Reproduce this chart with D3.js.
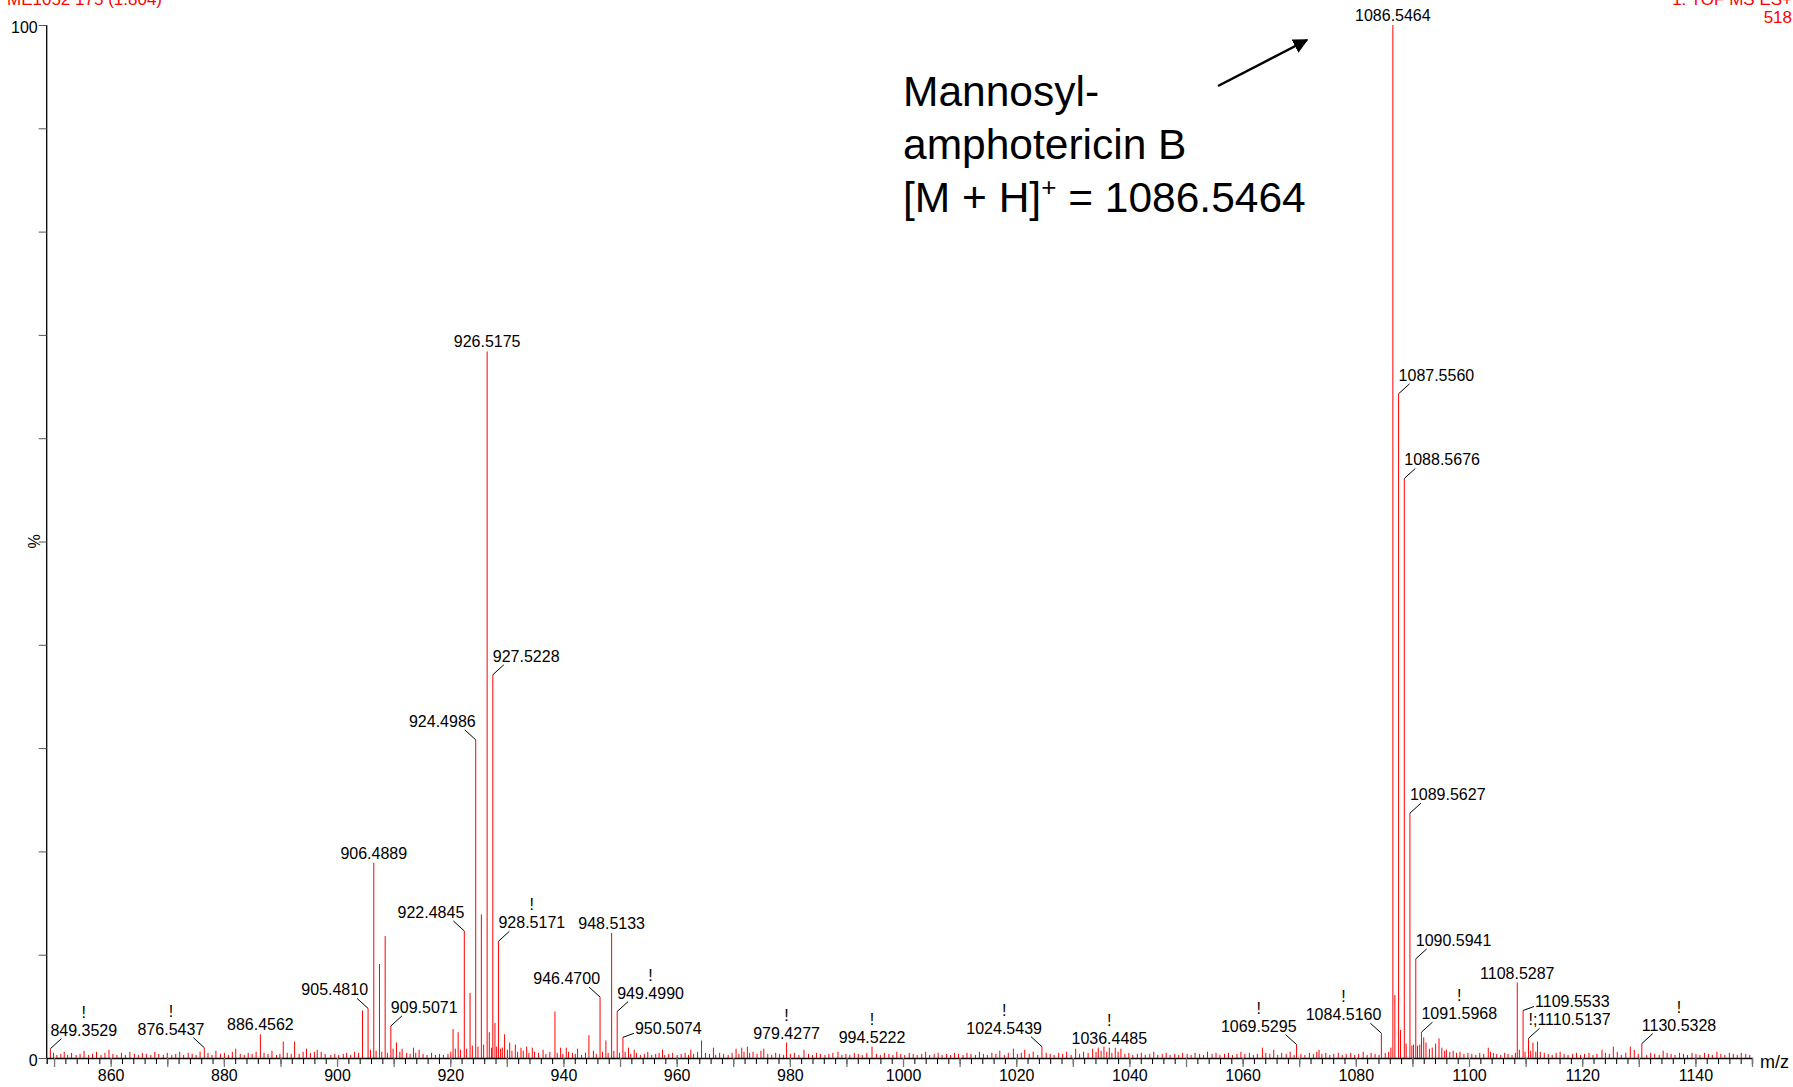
<!DOCTYPE html>
<html>
<head>
<meta charset="utf-8">
<script src="https://cdn.jsdelivr.net/npm/d3@7"></script>
<style>
  body { margin: 0; background: #fff; }
  svg { display: block; font-family: Arial, "Liberation Sans", sans-serif; }
</style>
</head>
<body>
<div id="chart"></div>
<script>
// ---- data (m/z, relative intensity %) ----
const labelText = ["849.3529","876.5437","886.4562","905.4810","906.4889","909.5071","922.4845","924.4986",
  "926.5175","927.5228","928.5171","946.4700","948.5133","949.4990","950.5074","979.4277","994.5222",
  "1024.5439","1036.4485","1069.5295","1084.5160","1086.5464","1087.5560","1088.5676","1089.5627",
  "1090.5941","1091.5968","1108.5287","1109.5533","!;1110.5137","1130.5328"];
const labelPct = [0.9,1.0,2.3,4.8,18.9,3.1,12.3,30.8,
  68.4,37.1,11.3,5.9,12.1,4.5,2.0,1.5,1.1,
  1.1,1.0,1.3,2.4,100,64.3,56.1,23.7,
  9.6,2.5,7.3,4.6,1.9,1.4];
const labelBang = [1,1,0,0,0,0,0,0, 0,0,1,0,0,1,0,1,1, 1,1,1,1,0,0,0,0, 0,1,0,0,0,1];

// unlabelled but visible peaks
const minorPeaks = [
  [882.1,0.9],[890.5,1.6],[892.5,1.6],[894.6,0.9],[896.5,0.8],
  [904.5,4.6],[907.5,9.1],[908.5,11.8],[910.5,1.5],[911.5,0.9],[913.5,1.0],[914.5,0.8],
  [920.5,2.8],[921.4,2.5],[923.5,6.3],[925.5,13.9],[926.9,2.5],[927.9,3.4],[929.6,2.3],[930.5,1.5],
  [931.5,1.3],[932.5,1.0],[933.5,1.1],[934.5,1.0],[936.4,0.8],[938.5,4.5],[939.5,1.0],[940.5,1.0],
  [942.5,0.9],[944.5,2.2],[945.3,0.7],[947.5,1.7],[951.5,1.0],[952.5,0.8],[957.5,0.8],[962.5,0.8],
  [964.4,1.7],[966.5,1.0],[970.5,0.9],[971.5,1.0],[972.5,1.1],[975.4,0.9],[982.5,0.8],
  [1019.5,0.9],[1021.5,0.8],[1030.5,0.9],[1033.5,0.9],[1034.5,1.0],[1035.5,1.1],[1037.5,1.0],[1038.5,0.9],
  [1063.5,1.0],[1065.5,0.8],[1073.5,0.8],
  [1086.9,6.1],[1087.9,2.7],[1088.9,1.4],[1089.9,1.2],[1090.2,1.3],[1090.9,1.2],[1091.3,1.3],[1092.0,2.0],
  [1092.4,1.5],[1093.5,1.0],[1094.1,1.4],[1094.7,1.9],[1095.7,0.7],[1103.4,1.0],[1103.8,0.6],
  [1108.9,0.8],[1111.3,1.5],[1112.1,1.6],[1112.6,0.6],[1116.1,0.6],[1123.5,0.8],[1125.5,1.1],
  [1128.5,1.1],[1129.2,0.8],[1134.3,0.7]
];

// baseline noise
const noise = [
  [849.9,.5],[850.5,.3],[851.2,.4],[851.8,.6],[852.4,.3],[853.1,.5],[853.9,.3],[854.6,.4],[855.3,.7],[856.1,.3],[856.8,.4],[857.5,.6],[858.3,.3],[859.0,.5],[859.7,.8],
  [860.4,.4],[861.1,.3],[861.9,.5],[862.6,.3],[863.4,.6],[864.2,.4],[864.9,.3],[865.6,.5],[866.3,.4],[867.1,.3],[867.8,.6],[868.5,.4],[869.3,.3],
  [870.0,.5],[870.8,.3],[871.5,.4],[872.2,.6],[872.9,.3],[873.7,.5],[874.4,.4],[875.1,.3],[875.8,.6],[877.2,.5],[877.9,.3],[878.6,.7],[879.4,.4],
  [880.1,.5],[880.8,.3],[881.5,.6],[882.9,.4],[883.6,.3],[884.3,.5],[885.0,.4],[885.7,.6],[887.1,.5],[887.8,.4],[888.5,.7],[889.3,.3],
  [889.9,.4],[891.2,.5],[891.9,.4],[893.3,.4],[894.0,.6],[895.3,.5],[896.0,.6],[897.2,.6],[897.9,.4],[898.9,.3],[899.6,.4],
  [900.3,.3],[901.1,.4],[901.7,.5],[902.4,.3],[903.1,.6],[903.8,.5],[905.9,.8],[906.9,.7],[907.9,.6],[908.9,.5],[909.9,.9],[911.1,.6],[912.3,.5],[912.9,.4],
  [913.9,.5],[915.2,.4],[915.9,.3],[916.7,.5],[917.4,.3],[918.1,.4],[918.8,.3],[919.6,.4],
  [920.1,.6],[920.9,.9],[921.8,.8],[922.9,.9],[923.9,1.2],[924.9,1.1],[925.9,1.3],[927.3,1.0],[928.2,1.1],[928.9,.9],
  [929.2,1.0],[930.1,.8],[930.9,.7],[931.9,.6],[932.9,.7],[933.9,.5],[934.9,.6],[935.6,.5],[936.9,.4],[937.6,.6],
  [938.9,.5],[939.9,.4],[940.9,.6],[941.6,.5],[942.1,.4],[943.2,.3],[943.9,.5],[945.8,.4],[946.9,.6],[947.9,.5],[948.9,.7],
  [949.9,.5],[950.9,.6],[951.9,.4],[952.9,.5],[953.6,.3],[954.3,.4],[954.9,.6],[955.6,.3],[956.3,.4],[956.9,.5],[957.9,.3],[958.6,.4],[959.3,.5],
  [960.1,.3],[960.8,.4],[961.5,.5],[962.1,.3],[963.0,.4],[963.7,.6],[965.1,.5],[965.8,.4],[966.9,.3],[967.6,.5],[968.3,.4],[969.1,.3],[969.8,.5],
  [971.0,.4],[971.9,.6],[972.9,.5],[973.5,.6],[974.2,.4],[974.9,.7],[976.1,.4],[976.8,.3],[977.5,.5],[978.2,.4],[978.9,.3],
  [980.1,.4],[980.8,.5],[981.6,.3],[983.3,.4],[984.0,.3],[984.7,.5],[985.4,.4],[986.2,.3],[986.9,.4],[987.6,.5],[988.5,.6],[989.2,.3],[989.9,.4],
  [990.6,.3],[991.4,.5],[992.1,.4],[992.8,.3],[993.6,.5],[995.3,.4],[996.0,.3],[996.7,.5],[997.5,.4],[998.2,.3],[998.9,.6],[999.6,.4],
  [1000.3,.3],[1001.1,.5],[1001.8,.4],[1002.5,.3],[1003.3,.4],[1004.0,.6],[1004.7,.3],[1005.5,.4],[1006.2,.5],[1006.9,.3],[1007.7,.4],[1008.4,.3],[1009.1,.5],[1009.8,.4],
  [1010.6,.3],[1011.3,.5],[1012.0,.4],[1012.8,.3],[1013.5,.6],[1014.2,.4],[1014.9,.3],[1015.7,.5],[1016.4,.4],[1017.1,.7],[1017.9,.3],[1018.6,.5],
  [1020.2,.4],[1020.9,.5],[1022.3,.4],[1023.0,.6],[1023.8,.3],[1025.3,.5],[1026.0,.4],[1026.7,.3],[1027.5,.5],[1028.2,.4],[1028.9,.6],[1029.7,.3],
  [1031.2,.4],[1031.9,.6],[1032.7,.5],[1034.1,.6],[1035.0,.7],[1036.0,.6],[1036.9,.5],[1038.0,.6],[1039.2,.4],[1039.9,.5],
  [1040.6,.3],[1041.4,.4],[1042.1,.5],[1042.8,.3],[1043.6,.4],[1044.3,.6],[1045.0,.3],[1045.8,.4],[1046.5,.5],[1047.2,.3],[1048.0,.4],[1048.7,.3],[1049.4,.5],
  [1050.2,.4],[1050.9,.3],[1051.6,.5],[1052.4,.4],[1053.1,.3],[1053.8,.6],[1054.6,.4],[1055.3,.5],[1056.0,.3],[1056.8,.4],[1057.5,.5],[1058.2,.3],[1059.0,.4],[1059.7,.6],
  [1060.4,.4],[1061.2,.5],[1061.9,.3],[1062.6,.4],[1064.1,.5],[1064.8,.4],[1066.2,.3],[1066.9,.5],[1067.7,.4],[1068.4,.6],[1069.1,.3],
  [1070.3,.4],[1071.0,.3],[1071.8,.5],[1072.5,.4],[1073.1,.6],[1074.0,.4],[1074.7,.5],[1075.4,.3],[1076.1,.4],[1076.9,.5],[1077.6,.3],[1078.3,.4],[1079.1,.5],[1079.8,.3],
  [1080.5,.4],[1081.3,.6],[1082.0,.3],[1082.7,.5],[1083.4,.4],[1084.1,.3],[1085.2,.5],[1085.8,.6],[1086.2,1.0],
  [1093.0,.9],[1095.2,1.0],[1096.0,.8],[1096.6,.6],[1097.2,.7],[1097.8,.5],[1098.4,.6],[1099.1,.4],[1099.8,.5],
  [1100.5,.4],[1101.2,.3],[1101.9,.5],[1102.6,.4],[1104.3,.5],[1104.9,.4],[1105.6,.3],[1106.3,.5],[1106.9,.4],[1107.6,.3],[1108.2,.5],
  [1109.9,.6],[1110.9,.7],[1111.8,.6],[1113.3,.5],[1114.0,.4],[1114.7,.3],[1115.4,.5],[1116.8,.4],[1117.5,.3],[1118.3,.4],[1119.0,.5],[1119.7,.3],
  [1120.4,.4],[1121.2,.5],[1121.9,.3],[1122.6,.4],[1124.1,.5],[1124.8,.4],[1126.2,.6],[1126.9,.3],[1127.7,.5],[1129.9,.4],[1131.4,.3],[1132.1,.5],[1132.8,.4],[1133.6,.3],
  [1135.0,.5],[1135.7,.4],[1136.4,.3],[1137.2,.5],[1137.9,.4],[1138.6,.3],[1139.4,.5],[1140.1,.4],[1140.8,.3],[1141.6,.5],[1142.3,.4],[1143.0,.3],[1143.8,.6],
  [1144.5,.4],[1145.2,.3],[1146.0,.5],[1146.7,.4],[1147.4,.3],[1148.1,.5],[1148.9,.4],[1149.6,.3]
];

// ---- layout (how each label sits relative to its peak) ----
const labelSide = ["r","l","c","l","c","r","l","l", "c","r","r","l","c","r","b","c","c",
  "l","c","l","l","c","r","r","r", "r","r","c","b","r","r"];

const W = 1793, H = 1087;
const svg = d3.select("#chart").append("svg").attr("width", W).attr("height", H);

const x = d3.scaleLinear().domain([848.7, 1150]).range([46.7, 1752]);
const y = d3.scaleLinear().domain([0, 100]).range([1058, 25]);

// peaks
const labelled = labelText.map((t, i) => [+t.replace("!;", ""), labelPct[i]]);
const allPeaks = noise.concat(minorPeaks, labelled);

svg.append("g").selectAll("line").data(allPeaks).join("line")
  .attr("x1", d => x(d[0])).attr("x2", d => x(d[0]))
  .attr("y1", y(0)).attr("y2", d => y(d[1]))
  .attr("stroke", "#ff0000").attr("stroke-width", 1);

// x axis: minor ticks every 2, gray ticks every 10, labels every 20
const xMinor = svg.append("g").attr("transform", `translate(0,${y(0)})`)
  .call(d3.axisBottom(x).tickValues(d3.range(850, 1151, 2)).tickSize(6).tickFormat(""));
xMinor.select(".domain").attr("stroke", "#000").attr("stroke-width", 1.3);
xMinor.selectAll(".tick line").attr("stroke", "#000");

const xMid = svg.append("g").attr("transform", `translate(0,${y(0)})`)
  .call(d3.axisBottom(x).tickValues(d3.range(850, 1151, 10)).tickSize(9).tickFormat(""));
xMid.select(".domain").remove();
xMid.selectAll(".tick line").attr("stroke", "#777").attr("stroke-width", 1.3);

const xLab = svg.append("g").attr("transform", `translate(0,${y(0)})`)
  .call(d3.axisBottom(x).tickValues(d3.range(860, 1141, 20)).tickSize(0).tickPadding(12)
    .tickFormat(d3.format("d")));
xLab.select(".domain").remove();
xLab.selectAll("text").attr("font-size", 16).attr("font-family", "Arial, 'Liberation Sans', sans-serif").attr("fill", "#000");

svg.append("text").attr("x", 1760).attr("y", 1068).attr("font-size", 18).text("m/z");

// y axis
const yAx = svg.append("g").attr("transform", `translate(${x.range()[0]},0)`)
  .call(d3.axisLeft(y).tickValues(d3.range(0, 101, 10)).tickSize(8).tickPadding(1)
    .tickFormat(d => (d === 0 || d === 100) ? d : ""));
yAx.select(".domain").attr("stroke", "#000").attr("stroke-width", 1.3).attr("d", `M0,${y(100)}V${y(0)}`);
yAx.selectAll(".tick line").attr("stroke", "#555");
yAx.selectAll("text").attr("font-size", 16).attr("dy", "0.44em")
  .attr("font-family", "Arial, 'Liberation Sans', sans-serif").attr("fill", "#000");

svg.append("text").attr("transform", `translate(40,${y(50)}) rotate(-90)`)
  .attr("text-anchor", "middle").attr("font-size", 16).text("%");

// peak labels
const lab = svg.append("g").attr("font-size", 16).attr("fill", "#000");
labelText.forEach((t, i) => {
  const px = x(labelled[i][0]), top = y(labelled[i][1]);
  const side = labelSide[i];
  let tx = px, ty = top - 4, anchor = "middle";
  if (side === "r" || side === "l") {
    const s = side === "r" ? 1 : -1;
    lab.append("line").attr("x1", px).attr("y1", top).attr("x2", px + s * 11).attr("y2", top - 10)
      .attr("stroke", "#000").attr("stroke-width", 1);
    ty = top - 13; anchor = side === "r" ? "start" : "end";
  } else if (side === "b") {
    lab.append("line").attr("x1", px).attr("y1", top).attr("x2", px + 11).attr("y2", top - 4)
      .attr("stroke", "#000").attr("stroke-width", 1);
    tx = px + 12; ty = top - 3; anchor = "start";
  }
  const txt = lab.append("text").attr("x", tx).attr("y", ty).attr("text-anchor", anchor).text(t);
  if (labelBang[i]) {
    const w = txt.node().getComputedTextLength();
    const cx = anchor === "middle" ? tx : anchor === "start" ? tx + w / 2 : tx - w / 2;
    lab.append("text").attr("x", cx).attr("y", ty - 18).attr("text-anchor", "middle").text("!");
  }
});

// header texts (red)
svg.append("text").attr("x", 7).attr("y", 4.5).attr("font-size", 17).attr("fill", "#ff0000")
  .text("ME1052 175 (1.804)");
svg.append("text").attr("x", 1792).attr("y", 4.5).attr("font-size", 17).attr("fill", "#ff0000")
  .attr("text-anchor", "end").text("1: TOF MS ES+");
svg.append("text").attr("x", 1792).attr("y", 23).attr("font-size", 17).attr("fill", "#ff0000")
  .attr("text-anchor", "end").text("518");

// annotation
const ann = svg.append("g").attr("font-size", 42.5).attr("fill", "#000");
ann.append("text").attr("x", 903).attr("y", 106).text("Mannosyl-");
ann.append("text").attr("x", 903).attr("y", 159).text("amphotericin B");
const l3 = ann.append("text").attr("x", 903).attr("y", 212);
l3.append("tspan").text("[M + H]");
l3.append("tspan").attr("font-size", 26).attr("dy", -16).text("+");
l3.append("tspan").attr("dy", 16).text(" = 1086.5464");

svg.append("defs").append("marker").attr("id", "arrow")
  .attr("viewBox", "0 0 10 10").attr("refX", 9).attr("refY", 5)
  .attr("markerWidth", 6).attr("markerHeight", 6).attr("orient", "auto")
  .append("path").attr("d", "M0,0L10,5L0,10z").attr("fill", "#000");
svg.append("line").attr("x1", 1218).attr("y1", 86).attr("x2", 1307).attr("y2", 40)
  .attr("stroke", "#000").attr("stroke-width", 2.5).attr("marker-end", "url(#arrow)");
</script>
</body>
</html>
